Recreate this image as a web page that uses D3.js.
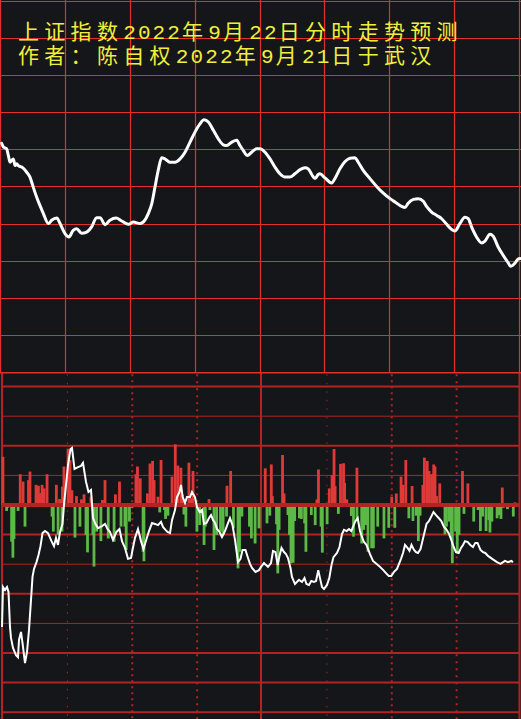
<!DOCTYPE html>
<html><head><meta charset="utf-8">
<script src="https://cdn.jsdelivr.net/npm/d3@7"></script>
<style>html,body{margin:0;padding:0;background:#151619;overflow:hidden}</style>
</head><body>
<script>
// ---- data ----
const titleLines = ["上证指数2022年9月22日分时走势预测", "作者：陈自权2022年9月21日于武汉"];

// top panel: price line (time in minutes 0-240, value in grid units 0-10)
const priceT = [0.3,1.1,2.6,3.4,4.2,4.9,5.7,6.5,7.3,8.0,9.6,11.9,13.4,14.9,16.5,18.0,19.6,21.9,23.4,25.8,27.3,29.6,31.4,33.4,35.0,37.3,39.6,41.9,44.2,45.8,48.1,50.4,53.2,55.8,58.9,61.2,64.3,66.6,68.1,69.7,71.2,72.7,74.3,75.8,78.1,80.5,82.8,85.1,87.4,89.7,92.0,93.9,95.9,98.2,100.5,102.8,104.4,106.7,109.0,110.5,112.0,113.9,115.9,118.2,119.8,122.1,124.4,126.7,129.0,131.3,133.6,135.9,138.3,140.6,142.1,143.7,145.2,146.7,147.5,149.8,152.9,154.4,156.8,159.1,161.4,163.7,165.2,167.5,170.6,173.7,176.8,179.9,183.0,185.3,186.8,188.3,190.7,193.0,195.3,196.8,199.1,201.5,203.8,206.1,208.4,209.9,212.2,214.5,216.1,217.6,219.9,222.3,223.8,226.1,227.6,229.9,232.2,234.6,235.7,237.7,239.2,240];
const priceV = [6.16,6.06,6.01,5.83,5.65,5.70,5.74,5.56,5.61,5.56,5.52,5.38,5.25,4.98,4.71,4.49,4.27,4.00,4.09,4.15,4.00,3.73,3.64,3.82,3.86,3.74,3.77,3.91,4.16,4.16,3.97,4.09,4.15,4.07,3.98,4.04,4.00,4.10,4.27,4.53,4.98,5.43,5.77,5.74,5.65,5.65,5.74,5.92,6.19,6.46,6.68,6.79,6.73,6.51,6.28,6.12,6.10,6.19,6.24,6.10,5.97,5.83,5.92,6.01,6.01,5.92,5.74,5.52,5.34,5.25,5.25,5.34,5.45,5.50,5.47,5.32,5.21,5.32,5.34,5.23,5.09,5.21,5.48,5.67,5.76,5.77,5.65,5.43,5.21,5.00,4.82,4.67,4.55,4.46,4.43,4.55,4.65,4.67,4.60,4.46,4.31,4.22,4.13,3.98,3.84,3.80,4.00,4.17,4.13,3.91,3.64,3.48,3.53,3.71,3.66,3.37,3.15,2.94,2.85,2.94,3.05,3.06];

// bottom panel: bars (minute, value; positive red, negative green)
const barT = [0.9,8.9,10.2,12.7,13.4,16.2,17.3,18.0,18.6,19.0,19.9,21.3,25.6,27.1,28.4,29.1,31.0,31.9,32.8,34.9,37.2,38.4,41.6,46.9,48.1,52.9,54.8,62.4,63.1,64.4,67.7,68.9,70.1,70.8,72.6,74.0,79.1,80.6,81.8,83.2,84.0,86.9,87.9,88.8,96.2,104.5,106.2,122.2,125.0,125.5,130.2,130.9,146.1,146.8,151.8,153.1,154.0,154.5,157.0,158.4,158.9,159.9,164.6,180.7,182.8,185.0,185.9,187.2,190.1,195.1,195.8,197.1,197.9,199.1,200.1,200.7,201.4,202.9,213.4,215.9,231.8,237.7,
  2.6,3.2,4.9,5.5,6.0,7.9,11.1,23.6,24.2,26.4,28.2,34.2,36.5,39.3,40.0,42.5,43.0,44.2,46.2,49.6,52.3,55.5,57.3,57.9,59.4,60.6,65.7,66.1,73.4,75.6,76.1,77.2,84.6,85.5,90.6,91.9,93.9,94.5,96.6,98.5,99.7,101.5,102.7,104.3,107.5,109.6,110.3,111.4,114.9,115.8,117.5,119.3,123.0,124.3,127.4,128.0,128.6,132.7,133.4,134.1,135.1,135.8,138.0,138.9,140.4,141.0,143.5,145.3,148.0,148.6,150.8,156.0,162.0,163.0,164.6,166.8,167.7,168.8,169.7,171.4,172.2,174.2,177.1,179.3,182.1,188.6,190.5,192.0,193.0,193.8,203.8,205.3,206.0,207.3,208.2,208.7,210.2,211.0,211.8,214.1,218.6,220.6,221.7,222.7,224.3,225.6,226.1,227.0,229.4,230.3,231.2,232.3,234.2,234.9,236.9];
const barV = [1.63,1.04,0.79,0.84,1.13,0.68,0.65,0.39,0.39,0.68,0.56,1.04,0.68,0.20,0.62,1.30,1.90,1.52,0.50,0.30,0.19,0.36,0.28,0.17,0.84,0.36,0.79,1.04,1.30,0.90,0.39,1.40,1.49,0.84,0.28,1.52,0.96,2.05,1.33,1.26,0.34,1.43,0.23,1.15,0.20,0.65,1.15,1.24,1.37,0.30,1.69,0.39,0.19,1.20,0.56,1.01,1.89,0.64,1.39,1.41,0.75,0.19,1.26,0.28,0.39,0.96,0.68,1.52,0.64,0.68,1.60,1.49,1.15,1.04,1.37,1.30,0.30,0.73,1.15,0.73,0.59,0.09,
  -0.20,-0.09,-1.24,-1.78,-1.15,-0.20,-0.73,-0.39,-0.90,-1.01,-0.90,-1.10,-0.73,-1.01,-1.60,-1.01,-2.08,-0.90,-1.22,-1.13,-1.24,-0.73,-0.73,-1.52,-0.56,-0.09,-1.58,-1.90,-0.25,-0.17,-0.47,-0.36,-0.32,-0.73,-0.90,-0.68,-1.35,-0.73,-0.17,-1.52,-1.01,-0.90,-1.01,-0.39,-0.79,-2.14,-1.58,-0.39,-0.73,-1.13,-1.30,-0.79,-0.62,-0.36,-0.65,-2.31,-0.84,-0.34,-1.01,-1.97,-1.95,-0.54,-0.45,-0.47,-0.62,-1.58,-0.34,-0.68,-0.73,-1.61,-0.65,-0.30,-0.37,-1.07,-0.51,-1.30,-0.84,-0.68,-1.58,-1.46,-1.46,-0.73,-1.13,-0.77,-0.77,-0.45,-0.54,-0.36,-1.22,-0.36,-0.06,-0.99,-0.73,-0.56,-1.01,-1.97,-0.90,-1.63,-1.01,-0.30,-0.56,-0.17,-0.88,-0.39,-0.88,-0.51,-0.93,-0.56,-0.45,-0.34,-0.47,-0.09,-0.14,-0.06,-0.39];

// bottom panel: white line (minute, value)
const lineT = [0.46,0.92,1.85,2.77,3.47,4.16,4.62,5.55,6.94,7.86,8.32,9.25,9.94,11.10,12.02,12.95,13.87,14.57,15.26,16.42,17.34,18.27,19.19,20.35,21.73,23.35,24.51,25.43,26.36,27.28,28.44,29.13,29.82,30.98,32.14,32.83,33.99,35.61,36.99,37.92,39.31,40.46,41.62,42.54,43.70,44.86,46.71,48.10,49.25,50.41,51.79,53.41,54.80,55.95,57.34,58.73,60.12,60.81,61.97,63.35,64.74,65.90,67.28,68.44,69.83,71.21,72.60,73.99,74.91,76.07,76.99,78.15,79.08,80.46,81.39,82.54,83.24,84.02,85.09,86.01,87.40,88.32,89.71,90.64,91.88,92.95,93.87,95.03,96.19,97.11,98.04,98.96,99.89,101.04,102.20,103.58,104.97,105.90,107.05,108.21,109.60,110.75,111.68,113.06,114.22,115.14,116.07,117.69,119.31,120.23,121.62,122.54,123.47,124.86,125.78,126.93,127.95,128.78,129.71,130.86,131.79,132.71,133.87,134.56,135.95,137.80,139.19,140.34,141.27,142.42,143.49,144.74,145.67,146.72,147.51,148.44,149.36,150.75,151.81,152.83,153.75,155.37,156.53,157.68,158.61,159.86,160.92,161.98,163.70,164.94,166.00,166.93,167.85,169.01,170.63,172.02,173.73,175.26,176.78,178.03,179.32,180.48,181.73,183.12,184.97,185.90,186.82,187.98,188.90,189.82,190.98,191.91,192.83,193.99,194.68,196.76,197.92,198.84,200.00,201.16,202.40,203.61,204.85,205.78,207.02,208.09,209.34,210.40,211.65,212.72,213.64,214.57,215.86,217.02,218.27,219.33,220.35,221.73,222.89,223.95,225.20,227.97,229.36,230.98,233.06,234.45,235.97,236.76];
const lineV = [-4.12,-2.77,-2.87,-2.77,-2.94,-4.12,-4.49,-4.83,-5.07,-5.14,-4.56,-4.29,-4.66,-5.34,-4.97,-4.22,-3.21,-2.43,-2.16,-1.93,-1.69,-1.39,-0.95,-0.88,-0.95,-1.22,-1.39,-1.11,-1.35,-0.91,-0.64,0,0.51,1.35,1.89,1.93,1.22,1.28,1.32,1.42,0.78,0.44,0.51,-0.44,-0.64,-0.78,-0.71,-0.64,-0.81,-0.91,-1.18,-0.91,-0.81,-1.22,-1.45,-1.82,-1.79,-1.52,-1.11,-0.81,-1.22,-1.49,-1.15,-0.88,-0.61,-0.64,-0.68,-0.57,-0.74,-0.84,-0.91,-0.95,-0.51,-0.17,0.27,0.44,0.68,0.27,0.07,0.27,0.27,0.44,0.27,-0.07,-0.24,-0.17,-0.64,-0.61,-0.44,-0.34,-0.51,-0.61,-0.81,-0.91,-1.08,-0.88,-0.61,-0.44,-0.68,-1.18,-1.93,-1.82,-1.52,-1.52,-1.79,-1.99,-2.13,-2.26,-2.20,-2.09,-1.96,-2.03,-2.09,-1.96,-1.55,-1.59,-2.03,-1.72,-1.45,-1.59,-1.66,-1.79,-2.13,-2.43,-2.67,-2.53,-2.60,-2.47,-2.67,-2.70,-2.57,-2.60,-2.57,-2.20,-2.47,-2.77,-2.84,-2.70,-2.47,-2.03,-1.76,-1.62,-1.42,-0.98,-0.84,-0.88,-0.81,-0.88,-0.57,-0.44,-0.88,-1.08,-1.25,-1.35,-1.66,-1.89,-1.99,-2.09,-2.20,-2.30,-2.40,-2.40,-2.26,-2.16,-1.82,-1.62,-1.35,-1.45,-1.55,-1.35,-1.52,-1.59,-1.62,-1.49,-1.28,-0.64,-0.54,-0.41,-0.24,-0.34,-0.44,-0.54,-0.74,-0.81,-0.95,-1.15,-1.42,-1.59,-1.62,-1.45,-1.35,-1.22,-1.25,-1.35,-1.42,-1.28,-1.28,-1.52,-1.59,-1.62,-1.72,-1.86,-1.93,-1.99,-1.89,-1.93,-1.89,-1.93];

const topGridVals = d3.range(0, 11);
const timeGrid = d3.range(0, 241, 30);
const bottomGridVals = [4,3,2,1,0,-1,-2,-3,-4,-5,-6,-7];
const bottomGridThick = [2,1,2,1,4,2,1,2,1,2,2,2];
const dottedTimes = [30,60,90,150,180,210];
const dottedDash = ["1.5,7","2,4","2,5","1.5,7","2,4","2,5"];

// ---- drawing ----
const W = 521, H = 719;
const svg = d3.select("body").append("svg").attr("width", W).attr("height", H);
svg.append("rect").attr("width", W).attr("height", H).attr("fill", "#151619");

const x = d3.scaleLinear().domain([0, 240]).range([1, 520]);
const yTop = d3.scaleLinear().domain([0, 10]).range([372.3, 0.5]);
const yBot = d3.scaleLinear().domain([0, 1]).range([505, 475.4]);

const TOPRED = "#e3302d", BOTRED = "#b32322";

// top grid
const gTop = svg.append("g");
gTop.selectAll("line.h").data(topGridVals).join("line")
  .attr("x1", 0).attr("x2", W).attr("y1", d => Math.round(yTop(d)) + 0.5).attr("y2", d => Math.round(yTop(d)) + 0.5)
  .attr("stroke", TOPRED).attr("stroke-width", 1.2);
gTop.selectAll("line.v").data(timeGrid).join("line")
  .attr("x1", d => Math.round(x(d)) - 0.5).attr("x2", d => Math.round(x(d)) - 0.5)
  .attr("y1", 0).attr("y2", yTop(0))
  .attr("stroke", TOPRED).attr("stroke-width", 1.2);

// title: monospace half-width digits, full-width CJK, per-character pitch
const FS = 21;
function dxList(s) {
  const chars = Array.from(s);
  return chars.map((c, i) => {
    if (i === 0) return 0;
    const prev = chars[i - 1];
    return /[0-9]/.test(prev) ? 2.1 : 5.3;
  }).join(" ");
}
svg.append("text")
  .attr("fill", "#f2ef3c")
  .attr("font-family", "'Liberation Mono', 'Noto Sans CJK SC', monospace")
  .attr("font-size", FS)
  .selectAll("tspan").data(titleLines).join("tspan")
  .attr("x", 18).attr("y", (d, i) => 38.5 + i * 24)
  .attr("dx", d => dxList(d))
  .text(d => d);

// top price line
const topData = priceT.map((t, i) => [t, priceV[i]]);
svg.append("path").datum(topData)
  .attr("fill", "none").attr("stroke", "#ffffff").attr("stroke-width", 3)
  .attr("stroke-linejoin", "round").attr("stroke-linecap", "round")
  .attr("d", d3.line().x(d => x(d[0])).y(d => yTop(d[1])).curve(d3.curveMonotoneX));

// bottom grid
const gBot = svg.append("g");
gBot.selectAll("line.h").data(bottomGridVals).join("line")
  .attr("x1", 2).attr("x2", 520)
  .attr("y1", d => yBot(d)).attr("y2", d => yBot(d))
  .attr("stroke", BOTRED).attr("stroke-width", (d, i) => bottomGridThick[i]);
gBot.selectAll("line.d").data(dottedTimes).join("line")
  .attr("x1", d => x(d) + 1.5).attr("x2", d => x(d) + 1.5)
  .attr("y1", yTop(0) + 2).attr("y2", H)
  .attr("stroke", BOTRED).attr("stroke-width", (d, i) => i % 3 === 0 ? 1 : 2)
  .attr("stroke-dasharray", (d, i) => dottedDash[i]);
gBot.selectAll("line.s").data([0, 120, 240]).join("line")
  .attr("x1", d => d === 0 ? x(d) + 1 : d === 240 ? x(d) - 0.5 : x(d) + 0.5)
  .attr("x2", d => d === 0 ? x(d) + 1 : d === 240 ? x(d) - 0.5 : x(d) + 0.5)
  .attr("y1", yTop(0)).attr("y2", H)
  .attr("stroke", BOTRED).attr("stroke-width", 2);
// top border of lower panel
svg.append("line").attr("x1", 0).attr("x2", W).attr("y1", yTop(0) + 0.5).attr("y2", yTop(0) + 0.5)
  .attr("stroke", TOPRED).attr("stroke-width", 1.2);

// bars
const bars = barT.map((t, i) => [t, barV[i]]);
svg.append("g").selectAll("rect").data(bars).join("rect")
  .attr("x", d => x(d[0]) - 1.4).attr("width", 2.8)
  .attr("y", d => yBot(Math.max(0, d[1])))
  .attr("height", d => Math.abs(yBot(d[1]) - yBot(0)))
  .attr("fill", d => d[1] >= 0 ? "#e03a38" : "#5cb947");

// baseline over bars
svg.append("line").attr("x1", 2).attr("x2", 520).attr("y1", yBot(0)).attr("y2", yBot(0))
  .attr("stroke", BOTRED).attr("stroke-width", 4);

// white line in bottom panel
const botData = lineT.map((t, i) => [t, lineV[i]]);
svg.append("path").datum(botData)
  .attr("fill", "none").attr("stroke", "#ffffff").attr("stroke-width", 2)
  .attr("d", d3.line().x(d => x(d[0])).y(d => yBot(d[1])));
</script>
</body></html>
